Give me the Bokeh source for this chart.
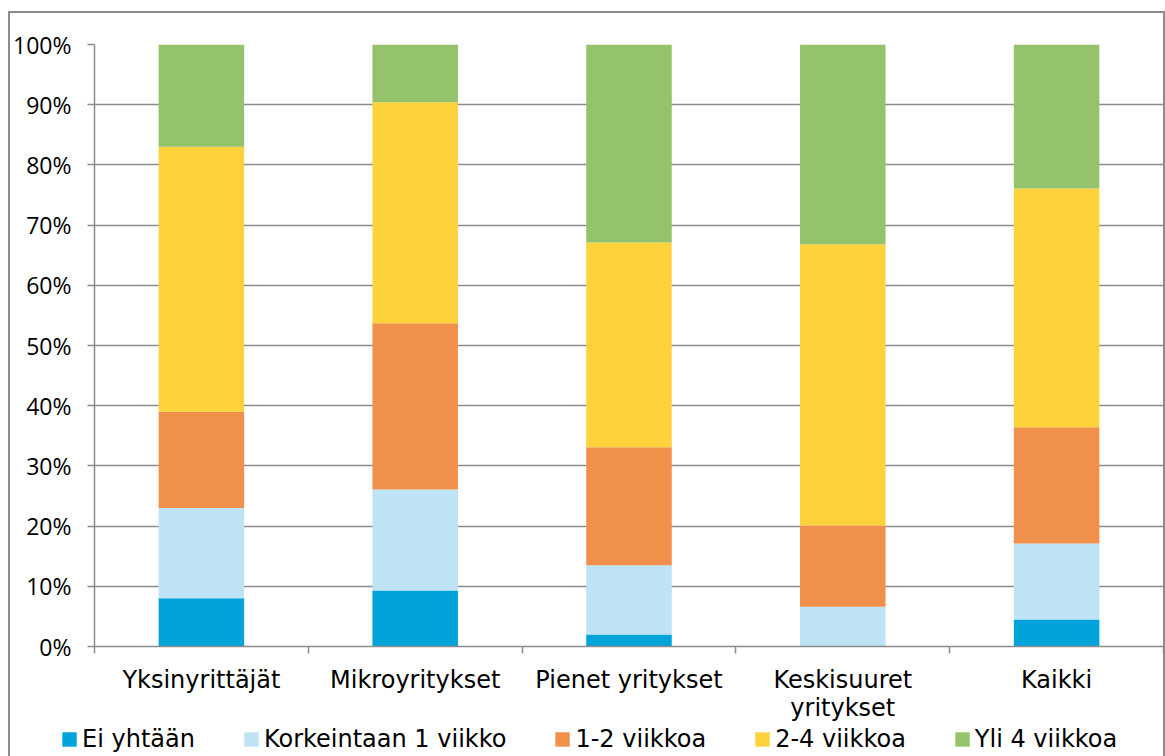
from bokeh.plotting import figure
from bokeh.layouts import column
from bokeh.models import ColumnDataSource, Range1d, FixedTicker, Legend, LegendItem
from bokeh.embed import file_html
from bokeh.resources import INLINE

categories = ["Yksinyrittäjät", "Mikroyritykset", "Pienet yritykset", "Keskisuuret\nyritykset", "Kaikki"]
series_names = ["Ei yhtään", "Korkeintaan 1 viikko", "1-2 viikkoa", "2-4 viikkoa", "Yli 4 viikkoa"]
ei_yhtaan = [8.0, 9.3, 2.0, 0.0, 4.5]
korkeintaan_1 = [15.0, 16.8, 11.5, 6.6, 12.6]
vk_1_2 = [16.0, 27.6, 19.6, 13.5, 19.3]
vk_2_4 = [44.0, 36.7, 34.0, 46.7, 39.7]
yli_4 = [17.0, 9.6, 32.9, 33.2, 23.9]
y_ticks = [0, 10, 20, 30, 40, 50, 60, 70, 80, 90, 100]
y_tick_labels = [f"{t}%" for t in y_ticks]

colors = ["#00A3DA", "#BEE3F5", "#F1904B", "#FED23B", "#95C36B"]
GRAY = "#8c8c8c"

centers = [i + 0.5 for i in range(len(categories))]
bounds = [float(i) for i in range(len(categories) + 1)]
keys = ["s0", "s1", "s2", "s3", "s4"]
source = ColumnDataSource(dict(x=centers, s0=ei_yhtaan, s1=korkeintaan_1, s2=vk_1_2, s3=vk_2_4, s4=yli_4))

p = figure(width=1153, height=711, output_backend="svg", toolbar_location=None,
           x_range=Range1d(0, len(categories)), y_range=Range1d(0, 100),
           min_border_left=84, min_border_right=0, min_border_top=31, min_border_bottom=78)
p.frame_align = False
p.outline_line_color = None
p.background_fill_color = "white"
p.border_fill_color = "white"

renderers = p.vbar_stack(keys, x="x", width=0.4, source=source, color=colors, line_color=None)

# y axis
p.yaxis.ticker = FixedTicker(ticks=y_ticks)
p.yaxis.major_label_overrides = {t: l for t, l in zip(y_ticks, y_tick_labels)}
p.yaxis.axis_line_color = GRAY
p.yaxis.axis_line_width = 1.5
p.yaxis.major_tick_line_color = GRAY
p.yaxis.major_tick_line_width = 1.5
p.yaxis.major_tick_out = 7
p.yaxis.major_tick_in = 0
p.yaxis.minor_tick_line_color = None
p.yaxis.major_label_text_font = "Open Sans"
p.yaxis.major_label_text_font_size = "23px"
p.yaxis.major_label_text_color = "black"
p.yaxis.major_label_standoff = 16

# x axis
p.xaxis.ticker = FixedTicker(ticks=centers, minor_ticks=bounds)
p.xaxis.major_label_overrides = {c: l for c, l in zip(centers, categories)}
p.xaxis.axis_line_color = GRAY
p.xaxis.axis_line_width = 1.5
p.xaxis.major_tick_line_color = None
p.xaxis.major_tick_out = 0
p.xaxis.major_tick_in = 0
p.xaxis.minor_tick_line_color = GRAY
p.xaxis.minor_tick_line_width = 1.5
p.xaxis.minor_tick_out = 7
p.xaxis.minor_tick_in = 0
p.xaxis.major_label_text_font = "DejaVu Sans"
p.xaxis.major_label_text_font_size = "24px"
p.xaxis.major_label_text_line_height = 1.0
p.xaxis.major_label_text_color = "black"
p.xaxis.major_label_standoff = 12

# grid
p.xgrid.grid_line_color = None
p.ygrid.ticker = FixedTicker(ticks=y_ticks)
p.ygrid.grid_line_color = GRAY
p.ygrid.grid_line_width = 1.3

# legend strip (separate figure so the legend is not clipped)
lf = figure(width=1153, height=32, output_backend="svg", toolbar_location=None,
            x_range=Range1d(0, 1), y_range=Range1d(0, 1),
            x_axis_location=None, y_axis_location=None,
            min_border_left=0, min_border_right=0, min_border_top=0, min_border_bottom=0)
lf.frame_align = False
lf.outline_line_color = None
lf.xgrid.grid_line_color = None
lf.ygrid.grid_line_color = None
lf.border_fill_color = "white"
# one off-screen point each, only so that the legend has a glyph to show
legend_renderers = [lf.vbar(x=[5], top=[1], width=0.4, color=c, line_color=None) for c in colors]
legend = Legend(items=[LegendItem(label=n, renderers=[r]) for n, r in zip(series_names, legend_renderers)],
                orientation="horizontal", location=(50, 3),
                glyph_width=18, glyph_height=18, label_standoff=4, spacing=47,
                padding=0, margin=0, border_line_color=None, background_fill_alpha=0,
                label_text_font="DejaVu Sans", label_text_font_size="24px",
                label_text_color="black", label_height=24)
lf.add_layout(legend, "center")

layout = column(p, lf, spacing=0,
                styles={"border-left": f"2px solid {GRAY}", "border-top": f"2px solid {GRAY}",
                        "border-right": f"2px solid {GRAY}", "position": "relative",
                        "top": "11px", "left": "8px", "background-color": "white"})

open("out.html", "w").write(file_html(layout, INLINE))
